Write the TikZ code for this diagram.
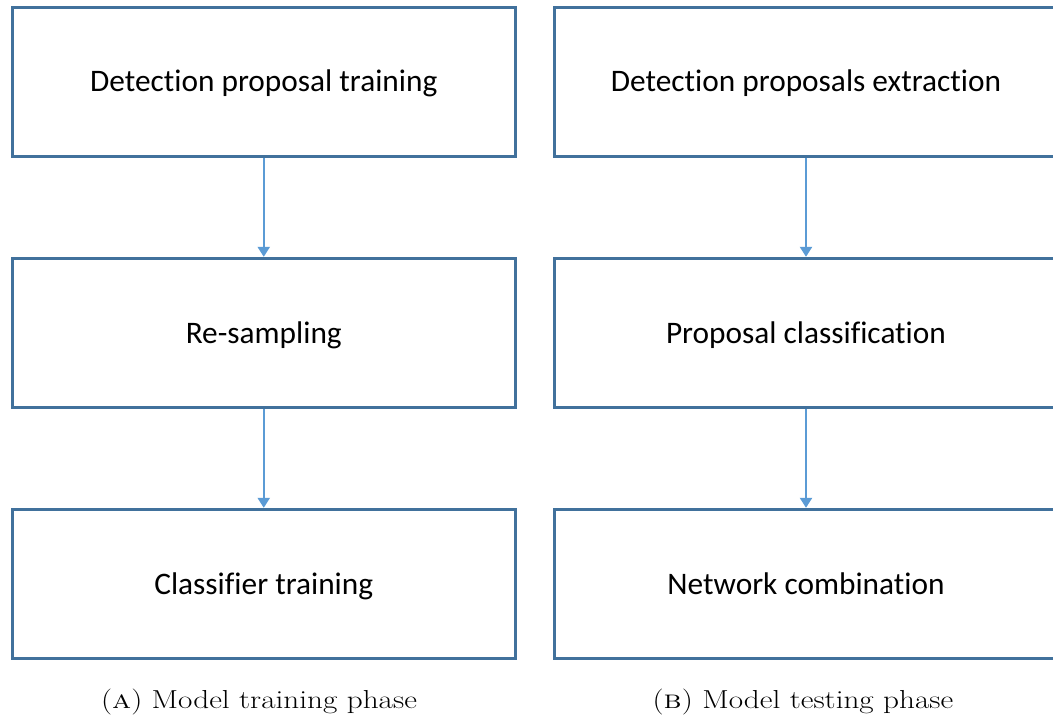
\documentclass[tikz,border=0pt]{standalone}
\usepackage{fontspec}
\usepackage{graphicx}
\newfontfamily\boxfont[Ligatures={NoCommon}]{Carlito}
\usetikzlibrary{arrows.meta}
\definecolor{boxline}{HTML}{41719C}
\definecolor{flowline}{HTML}{5B9BD5}
\newcommand{\widecap}[1]{\scalebox{1.2}[1]{#1}}
\tikzset{
  stage/.style={draw=boxline, line width=2.25pt, rectangle, fill=white,
    minimum width=377pt, minimum height=112pt, inner sep=0pt,
    text height=15pt, text depth=0pt,
    font=\boxfont\fontsize{23.5pt}{28pt}\selectfont, text=black},
  flow/.style={draw=flowline, line width=1.7pt,
    -{Triangle[width=9pt,length=7.5pt]}},
  caption/.style={font=\fontsize{19.5pt}{23pt}\selectfont, text=black, anchor=base}
}
\begin{document}
\begin{tikzpicture}[x=0.75pt,y=-0.75pt]
  \useasboundingbox (0,0) rectangle (1053,717);
  \clip (0,0) rectangle (1053,717);
  % training pipeline
  \node[stage] (dpt) at (263.75,82) {Detection proposal training};
  \node[stage] (rs)  at (263.75,333) {Re-sampling};
  \node[stage] (ct)  at (263.75,584) {Classifier training};
  % testing pipeline
  \node[stage] (dpe) at (806,82) {Detection proposals extraction};
  \node[stage] (pc)  at (806,333) {Proposal classification};
  \node[stage] (nc)  at (806,584) {Network combination};
  \draw[flow] (dpt) -- (rs);
  \draw[flow] (rs) -- (ct);
  \draw[flow] (dpe) -- (pc);
  \draw[flow] (pc) -- (nc);
  % sub-captions
  \node[caption] (capa) at (259,708) {\widecap{(\textsc{a}) Model training phase}};
  \node[caption] (capb) at (803,708) {\widecap{(\textsc{b}) Model testing phase}};
\end{tikzpicture}
\end{document}
